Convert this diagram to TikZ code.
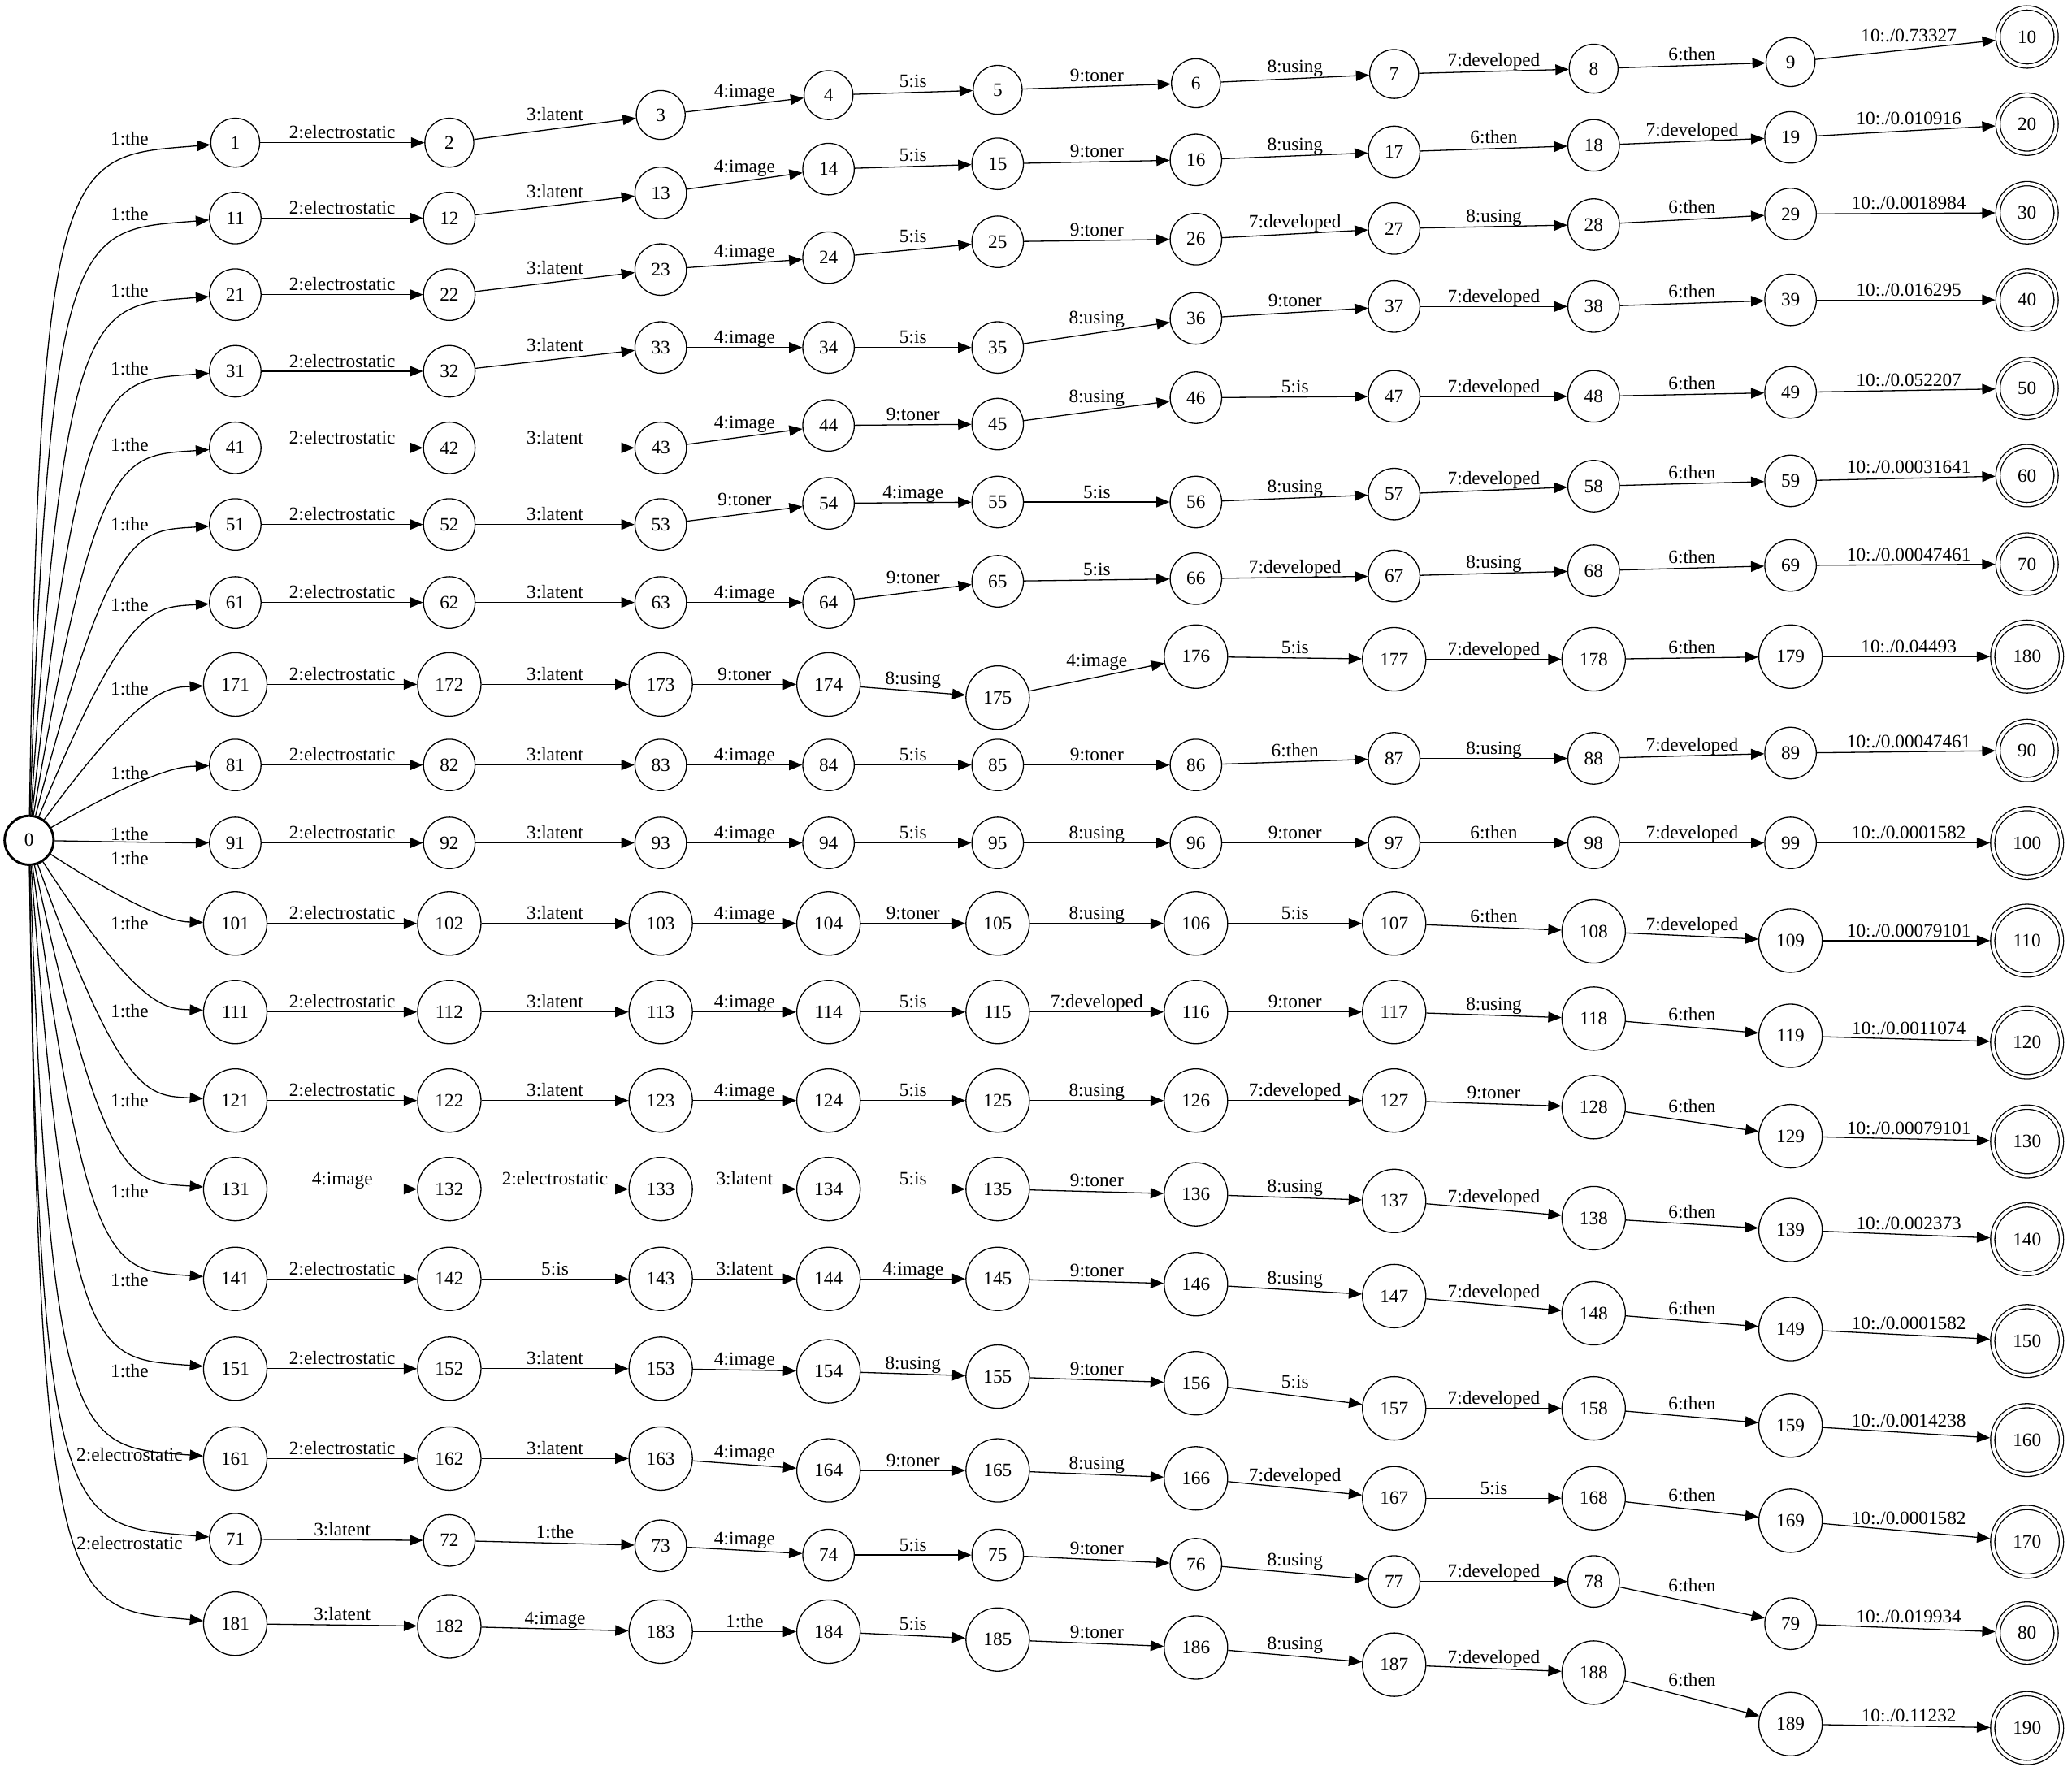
\documentclass[tikz,border=0pt]{standalone}
\usepackage{fontspec}
\setmainfont{Liberation Serif}
\usetikzlibrary{arrows.meta}

\def\colx{{178,340,500,627,755,905,1055,1206,1355,1534}}
% one row per path: state/y/label of incoming arc
\newcommand\fstrow[1]{%
  \foreach \n/\y/\lab [remember=\n as \p (initially 0), remember=\y as \py (initially 636)] in {#1} {
    \pgfmathtruncatemacro\col{mod(\n-1,10)}
    \pgfmathsetmacro\cx{\colx[\col]}
    \ifnum\col=9
      \pgfmathsetmacro\sz{\n>99 ? 52 : 44}
      \node[accept=\sz pt] (\n) at (\cx,\y) {\n};
    \else
      \pgfmathsetmacro\sz{\n>99 ? 48 : (\n>9 ? 39 : 37)}
      \node[state=\sz pt] (\n) at (\cx,\y) {\n};
    \fi
    \ifnum\col>0
      \pgfmathsetmacro\px{\colx[\col-1]}
      \draw[trans] (\p) -- (\n);
      \node[lbl] at ({(\px+\cx)/2}, {(\py+\y)/2-3-25*abs(\y-\py)/(\cx-\px)}) {\lab};
    \fi
  }%
}

\begin{document}
\begin{tikzpicture}[
    x=1pt, y=-1pt,
    font=\fontsize{14.3}{16}\selectfont,
    state/.style={draw, circle, line width=0.8pt, inner sep=0pt, minimum size=#1},
    accept/.style={draw, circle, line width=0.8pt, double, double distance=2.4pt, inner sep=0pt, outer sep=2pt, minimum size=#1},
    startstate/.style={draw, circle, line width=1.8pt, inner sep=0pt, minimum size=37pt},
    trans/.style={-{Triangle[length=10pt, width=8pt]}, line width=0.8pt},
    lbl/.style={anchor=base, inner sep=0pt}
]
\useasboundingbox (0,0) rectangle (1568,1340);

\node[startstate] (0) at (22,636) {0};

\fstrow{1/108/{}, 2/108/2:electrostatic, 3/87/3:latent, 4/72/4:image, 5/68/5:is, 6/63/9:toner, 7/56/8:using, 8/52/7:developed, 9/47/6:then, 10/28/{10:./0.73327}}
\fstrow{11/165/{}, 12/165/2:electrostatic, 13/146/3:latent, 14/128/4:image, 15/124/5:is, 16/121/9:toner, 17/115/8:using, 18/110/6:then, 19/104/7:developed, 20/94/{10:./0.010916}}
\fstrow{21/223/{}, 22/223/2:electrostatic, 23/204/3:latent, 24/195/4:image, 25/183/5:is, 26/181/9:toner, 27/173/7:developed, 28/170/8:using, 29/162/6:then, 30/161/{10:./0.0018984}}
\fstrow{31/281/{}, 32/281/2:electrostatic, 33/263/3:latent, 34/263/4:image, 35/263/5:is, 36/241/8:using, 37/232/9:toner, 38/232/7:developed, 39/227/6:then, 40/227/{10:./0.016295}}
\fstrow{41/339/{}, 42/339/2:electrostatic, 43/339/3:latent, 44/322/4:image, 45/321/9:toner, 46/301/8:using, 47/300/5:is, 48/300/7:developed, 49/297/6:then, 50/294/{10:./0.052207}}
\fstrow{51/397/{}, 52/397/2:electrostatic, 53/397/3:latent, 54/381/9:toner, 55/380/4:image, 56/380/5:is, 57/374/8:using, 58/368/7:developed, 59/364/6:then, 60/360/{10:./0.00031641}}
\fstrow{61/456/{}, 62/456/2:electrostatic, 63/456/3:latent, 64/456/4:image, 65/440/9:toner, 66/438/5:is, 67/436/7:developed, 68/432/8:using, 69/428/6:then, 70/427/{10:./0.00047461}}
\fstrow{171/518/{}, 172/518/2:electrostatic, 173/518/3:latent, 174/518/9:toner, 175/528/8:using, 176/497/4:image, 177/499/5:is, 178/499/7:developed, 179/497/6:then, 180/497/{10:./0.04493}}
\fstrow{81/579/{}, 82/579/2:electrostatic, 83/579/3:latent, 84/579/4:image, 85/579/5:is, 86/579/9:toner, 87/574/6:then, 88/574/8:using, 89/570/7:developed, 90/568/{10:./0.00047461}}
\fstrow{91/638/{}, 92/638/2:electrostatic, 93/638/3:latent, 94/638/4:image, 95/638/5:is, 96/638/8:using, 97/638/9:toner, 98/638/6:then, 99/638/7:developed, 100/638/{10:./0.0001582}}
\fstrow{101/699/{}, 102/699/2:electrostatic, 103/699/3:latent, 104/699/4:image, 105/699/9:toner, 106/699/8:using, 107/699/5:is, 108/705/6:then, 109/712/7:developed, 110/712/{10:./0.00079101}}
\fstrow{111/766/{}, 112/766/2:electrostatic, 113/766/3:latent, 114/766/4:image, 115/766/5:is, 116/766/7:developed, 117/766/9:toner, 118/771/8:using, 119/784/6:then, 120/789/{10:./0.0011074}}
\fstrow{121/833/{}, 122/833/2:electrostatic, 123/833/3:latent, 124/833/4:image, 125/833/5:is, 126/833/8:using, 127/833/7:developed, 128/838/9:toner, 129/860/6:then, 130/864/{10:./0.00079101}}
\fstrow{131/900/{}, 132/900/4:image, 133/900/2:electrostatic, 134/900/3:latent, 135/900/5:is, 136/904/9:toner, 137/909/8:using, 138/922/7:developed, 139/931/6:then, 140/938/{10:./0.002373}}
\fstrow{141/968/{}, 142/968/2:electrostatic, 143/968/5:is, 144/968/3:latent, 145/968/4:image, 146/972/9:toner, 147/981/8:using, 148/994/7:developed, 149/1006/6:then, 150/1015/{10:./0.0001582}}
\fstrow{151/1036/{}, 152/1036/2:electrostatic, 153/1036/3:latent, 154/1038/4:image, 155/1042/8:using, 156/1047/9:toner, 157/1066/5:is, 158/1066/7:developed, 159/1079/6:then, 160/1090/{10:./0.0014238}}
\fstrow{161/1104/{}, 162/1104/2:electrostatic, 163/1104/3:latent, 164/1113/4:image, 165/1113/9:toner, 166/1119/8:using, 167/1134/7:developed, 168/1134/5:is, 169/1151/6:then, 170/1167/{10:./0.0001582}}
\fstrow{71/1165/{}, 72/1166/3:latent, 73/1170/1:the, 74/1177/4:image, 75/1177/5:is, 76/1184/9:toner, 77/1197/8:using, 78/1197/7:developed, 79/1229/6:then, 80/1236/{10:./0.019934}}
\fstrow{181/1229/{}, 182/1231/3:latent, 183/1235/4:image, 184/1235/1:the, 185/1241/5:is, 186/1247/9:toner, 187/1260/8:using, 188/1266/7:developed, 189/1305/6:then, 190/1308/{10:./0.11232}}

% arcs out of the start state
\foreach \n/\ty/\ly/\lab in {1/108/105/1:the, 11/165/162/1:the, 21/223/220/1:the, 31/281/279/1:the, 41/339/337/1:the, 51/397/397/1:the, 61/456/458/1:the, 171/518/521/1:the, 81/579/585/1:the, 91/638/631/1:the, 101/699/650/1:the, 111/766/699/1:the, 121/833/765/1:the, 131/900/833/1:the, 141/968/902/1:the, 151/1036/969/1:the, 161/1104/1038/1:the, 71/1165/1101/2:electrostatic, 181/1229/1168/2:electrostatic} {
  \pgfmathsetmacro\dy{\ty-636}
  \pgfmathsetmacro\ax{22+max(8,110-0.2*abs(\dy))}
  \pgfmathsetmacro\bx{\ax+20}
  \pgfmathsetmacro\by{\ty-0.02*\dy}
  \draw[trans] (0) .. controls (\ax,\ty) and (\bx,\by) .. (\n);
  \node at (98,\ly) {\lab};
}
\end{tikzpicture}
\end{document}
